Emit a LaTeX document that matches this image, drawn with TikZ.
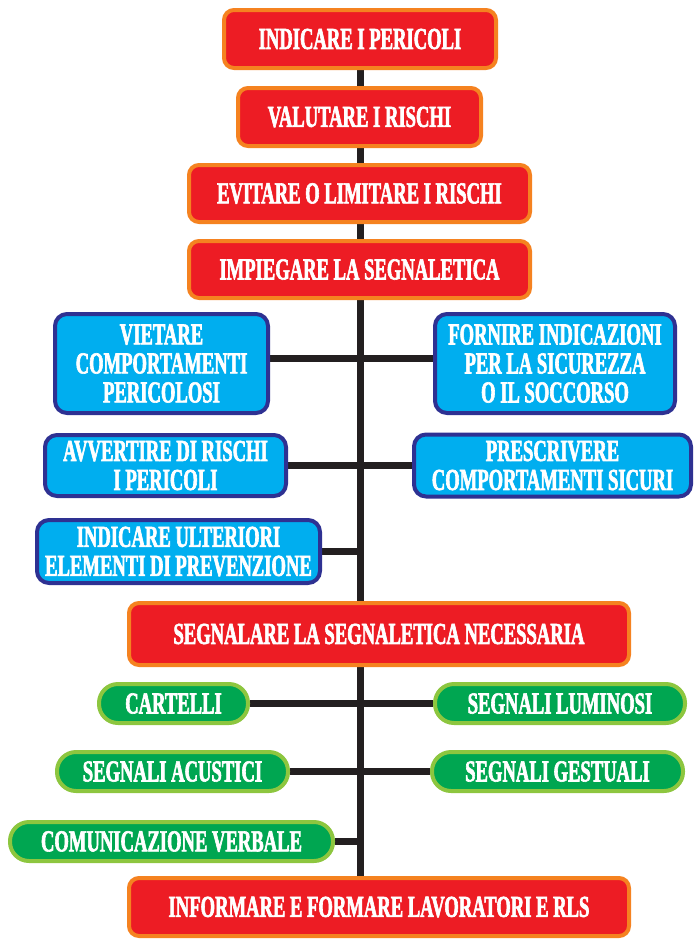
\documentclass[tikz,border=0pt]{standalone}
\usepackage{fontspec}
\newfontfamily\cond{Liberation Serif}[FakeStretch=0.61,FakeBold=2]
\usetikzlibrary{backgrounds}
\definecolor{cred}{HTML}{ED1C24}
\definecolor{corange}{HTML}{F58220}
\definecolor{cblue}{HTML}{00AEEF}
\definecolor{cnavy}{HTML}{2E3192}
\definecolor{cgreen}{HTML}{00A651}
\definecolor{clime}{HTML}{8DC63F}
\definecolor{cline}{HTML}{231F20}
\tikzset{
  base/.style={inner sep=0pt, align=center, text=white,
    font=\cond\bfseries\fontsize{30.5}{29}\selectfont, line width=4pt},
  redbox/.style={base, fill=cred, draw=corange, rounded corners=10pt},
  bluebox/.style={base, fill=cblue, draw=cnavy, rounded corners=12pt},
  greenbox/.style={base, fill=cgreen, draw=clime, rounded corners=19pt, minimum height=39pt},
  conn/.style={draw=cline, line width=7pt}
}
\begin{document}
\begin{tikzpicture}[x=1pt,y=-1pt]
\useasboundingbox (0,0) rectangle (694,940);
\node[redbox, minimum width=272pt, minimum height=58pt] (n1) at (360,39) {INDICARE I PERICOLI};
\node[redbox, minimum width=243pt, minimum height=58pt] (n2) at (359.5,117) {VALUTARE I RISCHI};
\node[redbox, minimum width=341pt, minimum height=57pt] (n3) at (359.5,193.5) {EVITARE O LIMITARE I RISCHI};
\node[redbox, minimum width=341pt, minimum height=57pt] (n4) at (359.5,269.5) {IMPIEGARE LA SEGNALETICA};
\node[bluebox, minimum width=213pt, minimum height=99pt] (n5) at (161.5,363.5) {VIETARE\\COMPORTAMENTI\\PERICOLOSI};
\node[bluebox, minimum width=240pt, minimum height=99pt] (n6) at (555,363.5) {FORNIRE INDICAZIONI\\PER LA SICUREZZA\\O IL SOCCORSO};
\node[bluebox, minimum width=241pt, minimum height=61pt] (n7) at (165.5,465.5) {AVVERTIRE DI RISCHI\\I PERICOLI};
\node[bluebox, minimum width=277pt, minimum height=62pt] (n8) at (552.5,465.5) {PRESCRIVERE\\COMPORTAMENTI SICURI};
\node[bluebox, minimum width=283pt, minimum height=63pt] (n9) at (178.5,551.5) {INDICARE ULTERIORI\\ELEMENTI DI PREVENZIONE};
\node[redbox, minimum width=500pt, minimum height=62pt] (n10) at (379,634) {SEGNALARE LA SEGNALETICA NECESSARIA};
\node[greenbox, minimum width=149pt] (n11) at (173.5,703.5) {CARTELLI};
\node[greenbox, minimum width=250pt] (n12) at (560,703.5) {SEGNALI LUMINOSI};
\node[greenbox, minimum width=231pt] (n13) at (172.5,771.5) {SEGNALI ACUSTICI};
\node[greenbox, minimum width=251pt] (n14) at (557.5,771.5) {SEGNALI GESTUALI};
\node[greenbox, minimum width=323pt] (n15) at (171.5,841.5) {COMUNICAZIONE VERBALE};
\node[redbox, minimum width=500pt, minimum height=58pt] (n16) at (379,907) {INFORMARE E FORMARE LAVORATORI E RLS};
\coordinate (sp) at (360,0);
\begin{scope}[on background layer]
\draw[conn] (n1.south) -- (n1.south |- n16.north);
\draw[conn] ([yshift=5pt]n5.east) -- ([yshift=5pt]n6.west);
\draw[conn] (n7.east) -- (n8.west);
\draw[conn] (n9.east) -- (n9.east -| sp);
\draw[conn] (n11.east) -- (n12.west);
\draw[conn] (n13.east) -- (n14.west);
\draw[conn] (n15.east) -- (n15.east -| sp);
\end{scope}
\end{tikzpicture}
\end{document}
